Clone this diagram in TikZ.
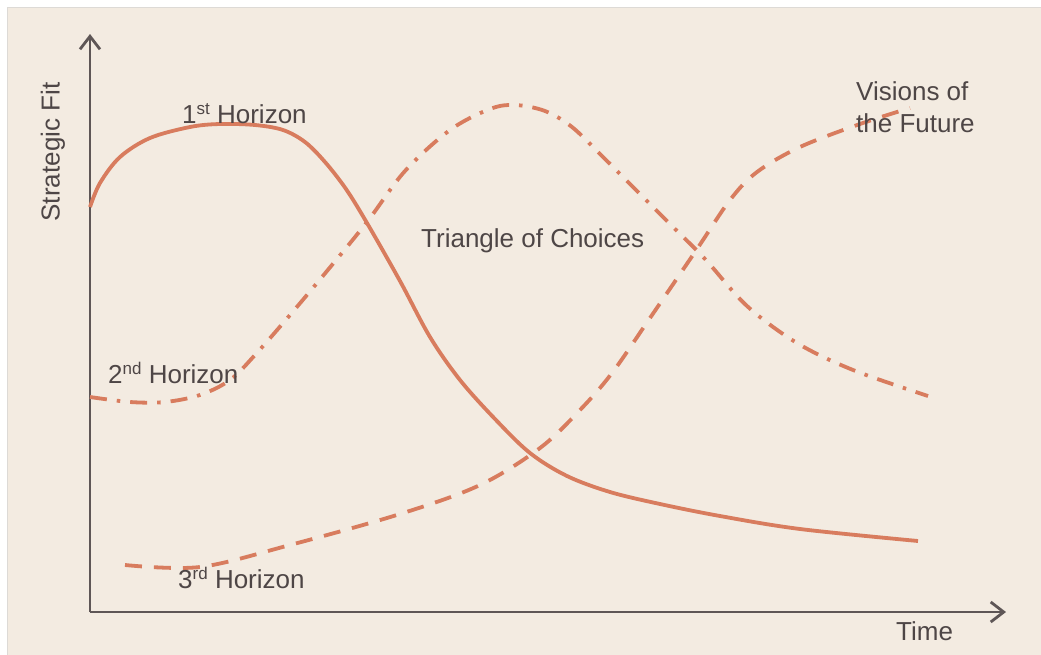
\documentclass[tikz,border=0pt]{standalone}
\usepackage{fontspec}
\setmainfont{Liberation Sans}
\usetikzlibrary{arrows.meta}
\definecolor{bgbeige}{HTML}{F3EBE1}
\definecolor{bordergray}{HTML}{DDDAD6}
\definecolor{curvecol}{HTML}{D87C5E}
\definecolor{axiscol}{HTML}{5E5656}
\definecolor{textcol}{HTML}{4E4646}
\newcommand{\supx}[1]{\raisebox{9pt}{\fontsize{17}{17}\selectfont #1}}
\tikzset{
  axisline/.style={draw=axiscol, line width=2.8pt, -{Straight Barb[length=13pt,width=20pt,line width=2.8pt]}},
  curvebase/.style={draw=curvecol, line width=3.8pt, smooth, tension=0.55},
  solidcurve/.style={curvebase},
  dashcurve/.style={curvebase, dash pattern=on 17pt off 12pt},
  dashdotcurve/.style={curvebase, dash pattern=on 17pt off 10pt on 3.5pt off 10pt},
  lbl/.style={text=textcol, inner sep=0pt, anchor=base west, font=\fontsize{26}{32}\selectfont},
}
\begin{document}
\begin{tikzpicture}[x=1pt,y=-1pt]
\useasboundingbox (0,0) rectangle (1041,654);
\fill[white] (0,0) rectangle (1041,654);
\draw[bordergray, line width=1pt, fill=bgbeige] (7.5,7.5) rectangle (1045,660);
% axes
\coordinate (origin) at (90,612);
\coordinate (ytip) at (90,34);
\coordinate (xtip) at (1006,612);
\draw[axisline] (origin) -- (ytip);
\draw[axisline] (origin) -- (xtip);
% 1st horizon (solid)
\draw[solidcurve] plot coordinates {(90,207) (100,183) (120,157) (150,138) (190,127) (220,124) (255,125) (283,130) (305,142) (325,162) (346,189) (367,223) (400,281) (430,337) (460,380) (495,419) (530,453) (567,476) (610,492) (660,504) (720,516) (800,529) (918,541)};
% 2nd horizon (dash dot)
\draw[dashdotcurve] plot coordinates {(90,397) (130,402) (165,402) (200,395) (230,380) (255,355) (290,315) (327,271) (367,222) (405,171) (450,130) (490,109) (515,105) (545,111) (572,127) (602,156) (636,190) (670,224) (705,259) (747,306) (797,343) (853,370) (928,396)};
% 3rd horizon (dashed)
\draw[dashcurve] plot coordinates {(125,565) (200,567) (290,545) (400,514) (480,485) (540,448) (580,410) (612,373) (650,318) (697,249) (730,200) (757,172) (800,147) (860,124) (910,108)};
% labels
\node[lbl, anchor=center, rotate=90] (yl) at (53,152) {Strategic Fit};
\node[lbl] (h1) at (182,123) {1\supx{st} Horizon};
\node[lbl] (h2) at (108,383) {2\supx{nd} Horizon};
\node[lbl] (h3) at (178,588) {3\supx{rd} Horizon};
\node[lbl] (tc) at (421,247) {Triangle of Choices};
\node[lbl, align=left, anchor=north west] (vf) at (856,81) {Visions of\\the Future};
\node[lbl] (tm) at (896,640) {Time};
\end{tikzpicture}
\end{document}
